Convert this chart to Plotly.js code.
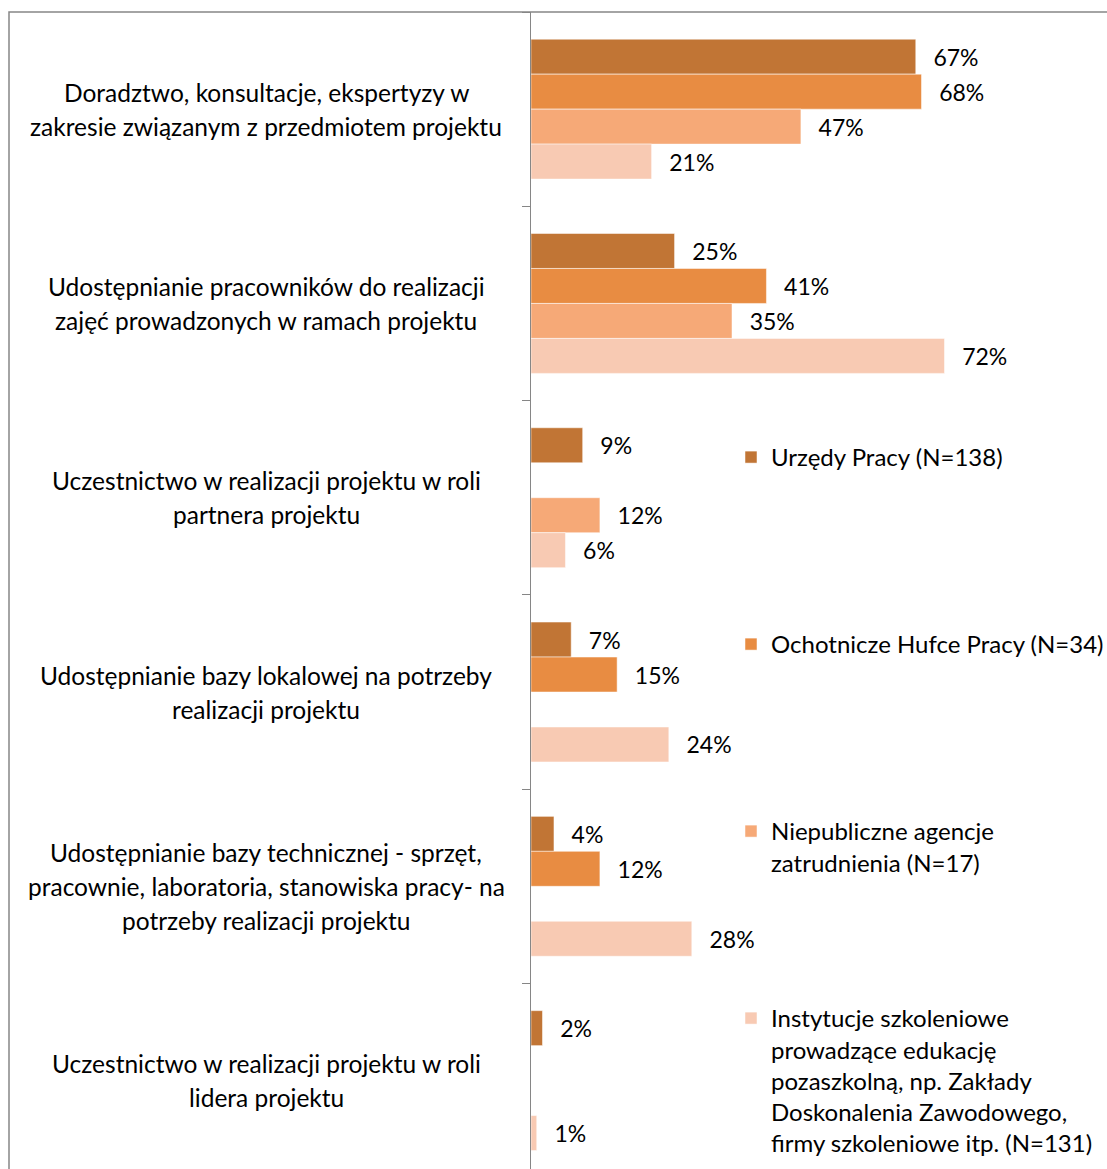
<!DOCTYPE html>
<html>
<head>
<meta charset="utf-8">
<script src="https://cdn.plot.ly/plotly-3.0.1.min.js"></script>
<style>html,body{margin:0;padding:0;background:#fff;}</style>
</head>
<body>
<div id="chart" style="width:1107px;height:1169px;"></div>
<script>
const categories = [
  "Doradztwo, konsultacje, ekspertyzy w\nzakresie związanym z przedmiotem projektu",
  "Udostępnianie pracowników do realizacji\nzajęć prowadzonych w ramach projektu",
  "Uczestnictwo w realizacji projektu w roli\npartnera projektu",
  "Udostępnianie bazy lokalowej na potrzeby\nrealizacji projektu",
  "Udostępnianie bazy technicznej - sprzęt,\npracownie, laboratoria, stanowiska pracy- na\npotrzeby realizacji projektu",
  "Uczestnictwo w realizacji projektu w roli\nlidera projektu"
];
const seriesNames = [
  "Urzędy Pracy (N=138)",
  "Ochotnicze Hufce Pracy (N=34)",
  "Niepubliczne agencje\nzatrudnienia (N=17)",
  "Instytucje szkoleniowe\nprowadzące edukację\npozaszkolną, np. Zakłady\nDoskonalenia Zawodowego,\nfirmy szkoleniowe itp. (N=131)"
];
const urzedyPracy = [67, 25, 9, 7, 4, 2];
const ochotniczeHufce = [68, 41, null, 15, 12, null];
const agencjeZatrudnienia = [47, 35, 12, null, null, null];
const instytucjeSzkoleniowe = [21, 72, 6, 24, 28, 1];
const seriesValues = [urzedyPracy, ochotniczeHufce, agencjeZatrudnienia, instytucjeSzkoleniowe];
const colors = ["#C17535", "#E88C42", "#F6A977", "#F8CAB3"];

const W = 1107, H = 1169;
const FONT = "Lato, 'Open Sans', sans-serif";
const FS_CAT = 24.5;
const FS_LBL = 23;
const FS_LEG = 24;
const LINE = 34;

const legendTops = [435, 622, 809, 996];
const legendIds = ["legend", "legend2", "legend3", "legend4"];

const traces = seriesValues.map((vals, i) => ({
  type: "bar",
  orientation: "h",
  name: seriesNames[i].split("\n").join("<br>"),
  y: categories,
  x: vals,
  marker: {color: colors[i], line: {color: "#ffffff", width: 0.5}},
  text: vals.map(v => v === null ? "" : "\u00a0\u00a0\u2009" + v + "%"),
  textposition: "outside",
  textfont: {family: FONT, size: FS_LBL, color: "#000"},
  constraintext: "none",
  cliponaxis: false,
  hoverinfo: "skip",
  legend: legendIds[i]
}));

const annotations = [];
categories.forEach(c => {
  const lines = c.split("\n");
  lines.forEach((ln, j) => {
    annotations.push({
      xref: "paper", yref: "y",
      x: (266 - 531) / 576, y: c,
      xanchor: "center", yanchor: "middle",
      text: ln, showarrow: false,
      yshift: -((j - (lines.length - 1) / 2) * LINE),
      font: {family: FONT, size: FS_CAT, color: "#000"}
    });
  });
});

const layout = {
  width: W, height: H,
  margin: {l: 531, r: 0, t: 12, b: 0, pad: 0, autoexpand: false},
  paper_bgcolor: "#fff", plot_bgcolor: "rgba(0,0,0,0)",
  barmode: "group",
  bargap: 0.28,
  bargroupgap: 0,
  showlegend: true,
  xaxis: {range: [0, 100.3], showgrid: false, zeroline: false, showticklabels: false, ticks: "", showline: false, fixedrange: true, automargin: false},
  yaxis: {
    type: "category",
    range: [5.455, -0.5],
    showticklabels: false, automargin: false,
    ticks: "outside", tickson: "boundaries", ticklen: 8, tickcolor: "#868686", tickwidth: 1,
    showline: true, linecolor: "#868686", linewidth: 1.5,
    showgrid: false, zeroline: false, fixedrange: true
  },
  annotations: annotations,
  shapes: [{
    type: "rect", xref: "paper", yref: "paper",
    x0: (9 - 531) / 576, x1: 1.2, y0: -0.2, y1: 1,
    line: {color: "#868686", width: 1.5}, fillcolor: "rgba(0,0,0,0)", layer: "below"
  }]
};
legendIds.forEach((id, i) => {
  layout[id] = {
    xref: "container", yref: "container",
    x: 731 / W, xanchor: "left",
    y: 1 - legendTops[i] / H, yanchor: "top",
    valign: "top",
    bgcolor: "rgba(0,0,0,0)",
    font: {family: FONT, size: FS_LEG, color: "#000"},
    itemclick: false, itemdoubleclick: false
  };
});

Plotly.newPlot("chart", traces, layout, {displayModeBar: false, staticPlot: true});
</script>
</body>
</html>
